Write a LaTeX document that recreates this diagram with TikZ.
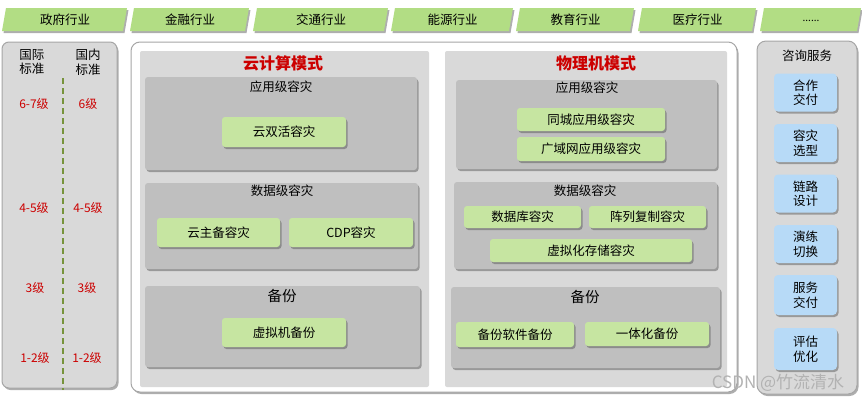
\documentclass[tikz,border=0pt]{standalone}
\usepackage{fontspec}
\setmainfont{Noto Sans CJK SC}
\usetikzlibrary{shadows}
\definecolor{bannergreen}{HTML}{B2DD84}
\definecolor{boxgreen}{HTML}{C6E5A1}
\definecolor{panelgray}{HTML}{D9D9D9}
\definecolor{subgray}{HTML}{BFBFBF}
\definecolor{borderg}{HTML}{A6A6A6}
\definecolor{lvlred}{HTML}{CC0000}
\definecolor{dashgreen}{HTML}{77933C}
\definecolor{svcblue}{HTML}{B7DAF7}
\tikzset{
  shad/.style={drop shadow={shadow xshift=1.5pt,shadow yshift=-2pt,opacity=0.45,fill=black!70}},
  txt/.style={font=\fontsize{12.5}{14.5}\selectfont, inner sep=0pt},
  lvl/.style={font=\fontsize{12}{14}\selectfont, text=lvlred, inner sep=0pt},
  greenbox/.style={fill=boxgreen, rounded corners=3pt, shad, txt},
  bluebox/.style={fill=svcblue, rounded corners=4pt, shad, txt, align=center, minimum width=63, minimum height=38},
  subpanel/.style={fill=subgray, rounded corners=3pt, shad, inner sep=0pt},
  banner/.style={fill=bannergreen, shad},
  title/.style={font=\fontsize{16}{18}\selectfont\bfseries, text=lvlred, inner sep=0pt},
}
\begin{document}
\begin{tikzpicture}[x=1pt,y=-1pt]
\fill[white] (0,0) rectangle (862,400);
\useasboundingbox (0,0) rectangle (862,400);

% banners
\foreach \a/\b/\t [count=\i] in {2/126/政府行业,130/248/金融行业,253/387/交通行业,391/512/能源行业,516/633/教育行业,638/755/医疗行业}{
  \fill[banner] (\a,31) -- (\a+4,8) -- (\b+1,8) -- (\b-3,31) -- cycle;
  \node[txt] (ban\i) at ({(\a+\b)/2+1},19.5) {\t};
}
\fill[banner] (760,31) -- (764,8) -- (861,8) -- (857,31) -- cycle;
\node[font=\fontsize{10}{12}\selectfont, inner sep=0pt] (ban7) at (811,21) {......};

% left panel
\draw[fill=panelgray, draw=borderg, line width=1pt, rounded corners=7pt, shad] (2,42) rectangle (117,388);
\node[txt, align=center] (intl) at (32,62) {国际\\标准};
\node[txt, align=center] (dom) at (88,62) {国内\\标准};
\coordinate (dtop) at (63,78);
\coordinate (dbot) at (63,390);
\draw[dashgreen, line width=2pt, dash pattern=on 6pt off 4pt] (dtop) -- (dbot);
\node[lvl] (i67) at (34,104) {6-7级};
\node[lvl] (d6) at (88,104) {6级};
\node[lvl] (i45) at (34,208) {4-5级};
\node[lvl] (d45) at (88,208) {4-5级};
\node[lvl] (i3) at (35,288) {3级};
\node[lvl] (d3) at (87,288) {3级};
\node[lvl] (i12) at (35,358) {1-2级};
\node[lvl] (d12) at (87,358) {1-2级};

% main panel
\draw[fill=white, draw=borderg, line width=1pt, rounded corners=9pt, shad] (131,42) rectangle (737,392);
\fill[panelgray, rounded corners=2pt] (140,51) rectangle (429,387);
\fill[panelgray, rounded corners=2pt] (445,51) rectangle (727,387);
\node[title] (cloud) at (283,63) {云计算模式};
\node[title] (phys) at (596,63) {物理机模式};

% cloud column
\path[subpanel] (145,77) rectangle (417,170);
\node[txt] (capp) at (281,87) {应用级容灾};
\node[greenbox, minimum width=124, minimum height=30] (c1) at (284,132) {云双活容灾};
\path[subpanel] (145,183) rectangle (418,269);
\node[txt] (cdata) at (282,191) {数据级容灾};
\node[greenbox, minimum width=123, minimum height=29] (c2) at (218.5,232.5) {云主备容灾};
\node[greenbox, minimum width=124, minimum height=29] (c3) at (351,232.5) {CDP容灾};
\path[subpanel] (145,286) rectangle (420,367);
\node[txt, font=\fontsize{14.5}{16}\selectfont] (cbak) at (282,296) {备份};
\node[greenbox, minimum width=124, minimum height=29] (c4) at (284,332.5) {虚拟机备份};

% physical column
\path[subpanel] (456,80) rectangle (717,169);
\node[txt] (papp) at (587,88) {应用级容灾};
\node[greenbox, minimum width=148, minimum height=23] (p1) at (591,119.5) {同城应用级容灾};
\node[greenbox, minimum width=148, minimum height=24] (p2) at (591,149) {广域网应用级容灾};
\path[subpanel] (454,182) rectangle (717,269);
\node[txt] (pdata) at (585,191) {数据级容灾};
\node[greenbox, minimum width=117, minimum height=22] (p3) at (522.5,217) {数据库容灾};
\node[greenbox, minimum width=117, minimum height=22] (p4) at (647.5,217) {阵列复制容灾};
\node[greenbox, minimum width=202, minimum height=23] (p5) at (591,250.5) {虚拟化存储容灾};
\path[subpanel] (451,287) rectangle (720,368);
\node[txt, font=\fontsize{14.5}{16}\selectfont] (pbak) at (585,297) {备份};
\node[greenbox, minimum width=118, minimum height=25] (p6) at (515,334.5) {备份软件备份};
\node[greenbox, minimum width=124, minimum height=24] (p7) at (647,334) {一体化备份};

% service panel
\draw[fill=panelgray, draw=borderg, line width=1pt, rounded corners=9pt, shad] (757,41) rectangle (857,394);
\node[txt] (svc) at (807,56) {咨询服务};
\node[bluebox] (s1) at (805.5,92.5) {合作\\交付};
\node[bluebox] (s2) at (805.5,143) {容灾\\选型};
\node[bluebox] (s3) at (805.5,193.5) {链路\\设计};
\node[bluebox] (s4) at (805.5,244) {演练\\切换};
\node[bluebox, minimum height=40] (s5) at (805.5,295) {服务\\交付};
\node[bluebox, minimum height=42] (s6) at (805.5,349) {评估\\优化};

% watermark
\node[font=\fontsize{17}{19}\selectfont, text=black!30, inner sep=0pt] (wm) at (778,383) {CSDN @竹流清水};
\end{tikzpicture}
\end{document}
